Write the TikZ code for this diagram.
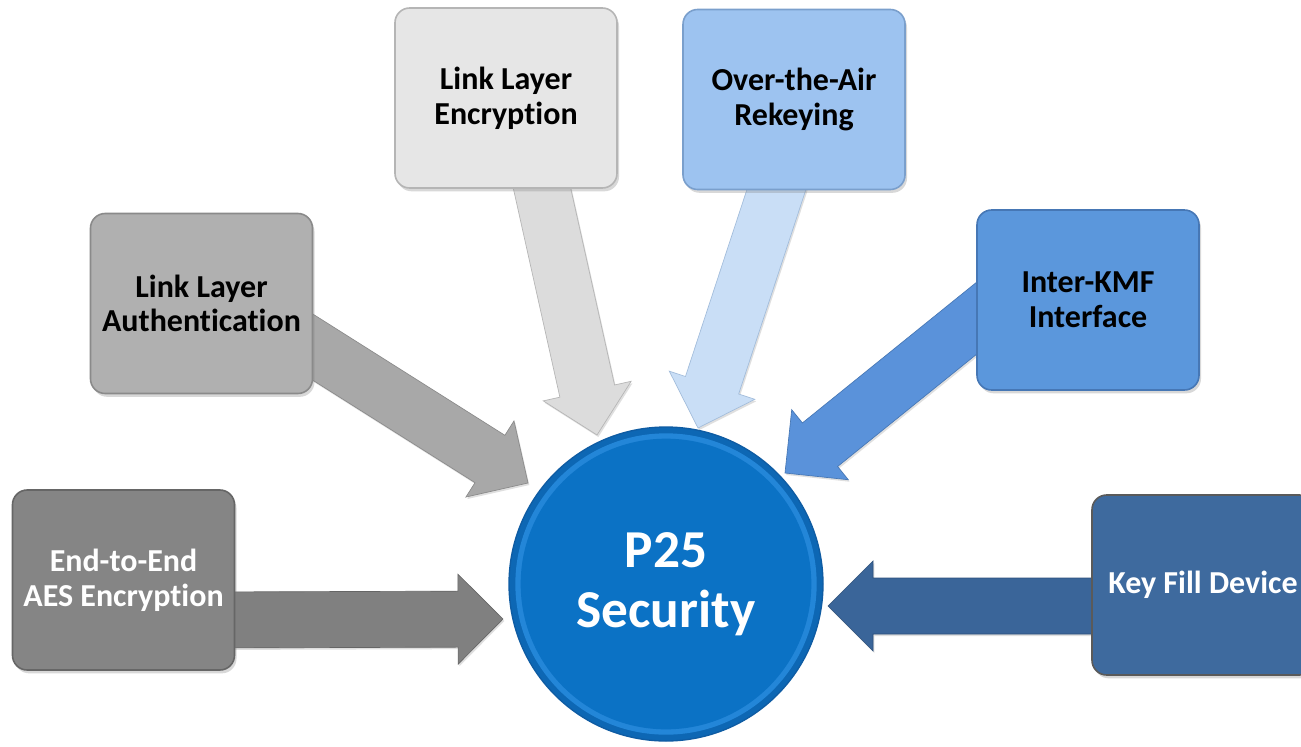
\documentclass[tikz,border=0pt]{standalone}
\usepackage{fontspec}
\setmainfont{Carlito}[Ligatures=NoCommon]
\usetikzlibrary{calc,shadows}
\pgfdeclarelayer{bg}
\pgfdeclarelayer{paper}
\pgfsetlayers{paper,bg,main}
\definecolor{eefill}{HTML}{858585}\definecolor{eedraw}{HTML}{666666}\definecolor{eearr}{HTML}{808080}
\definecolor{aufill}{HTML}{B0B0B0}\definecolor{audraw}{HTML}{8A8A8A}\definecolor{auarr}{HTML}{A8A8A8}
\definecolor{enfill}{HTML}{E6E6E6}\definecolor{endraw}{HTML}{B5B5B5}\definecolor{enarr}{HTML}{DCDCDC}
\definecolor{otfill}{HTML}{9DC3F0}\definecolor{otdraw}{HTML}{7A9FCC}\definecolor{otarr}{HTML}{C9DEF6}
\definecolor{kmfill}{HTML}{5B97DC}\definecolor{kmdraw}{HTML}{4677B5}\definecolor{kmarr}{HTML}{5A92DA}
\definecolor{kffill}{HTML}{3E6A9E}\definecolor{kfdraw}{HTML}{5A5A5A}\definecolor{kfarr}{HTML}{3A6599}
\definecolor{p25fill}{HTML}{0B72C5}\definecolor{p25draw}{HTML}{0F5CA3}\definecolor{p25ring}{HTML}{2E8FE0}
\tikzset{
  box/.style={rounded corners=11pt, minimum width=166.5pt, minimum height=135pt,
    align=center, inner sep=0pt, font=\fontsize{24}{26}\selectfont\bfseries, line width=1.2pt,
    drop shadow={opacity=0.3, shadow xshift=1.5pt, shadow yshift=-2.5pt}},
  blk/.style={line width=0.5pt, line join=miter,
    drop shadow={opacity=0.25, shadow xshift=1pt, shadow yshift=-1.5pt}},
}
\newcommand{\blockarr}[3]{%
  \coordinate (h#1#2) at ($(#2)!33.75pt!(#1)$);
  \draw[blk,#3] ($(#1)!21pt!90:(#2)$) -- ($(h#1#2)!21pt!90:(#2)$)
    -- ($(h#1#2)!33.75pt!90:(#2)$) -- (#2) -- ($(h#1#2)!33.75pt!-90:(#2)$)
    -- ($(h#1#2)!21pt!-90:(#2)$) -- ($(#1)!21pt!-90:(#2)$) -- cycle;
}
\begin{document}
\begin{tikzpicture}[x=0.75pt,y=-0.75pt]
\useasboundingbox (0,0) rectangle (1301,746);
\begin{pgfonlayer}{paper}
\fill[white] (0,0) rectangle (1301,746);
\end{pgfonlayer}
% arrow end points
\coordinate (ees) at (200,620);  \coordinate (eet) at (503,619);
\coordinate (kfs) at (1150,606); \coordinate (kft) at (828,606);
\coordinate (aus) at (254,310);  \coordinate (aut) at (528,483);
\coordinate (ens) at (529,130);  \coordinate (ent) at (597,435);
\coordinate (ots) at (795,133);  \coordinate (ott) at (698,428);
\coordinate (kms) at (1040,267); \coordinate (kmt) at (785,473);
\begin{pgfonlayer}{bg}
\blockarr{ees}{eet}{fill=eearr, draw=eedraw}
\blockarr{kfs}{kft}{fill=kfarr, draw=kfarr!80!black}
\blockarr{aus}{aut}{fill=auarr, draw=audraw}
\blockarr{ens}{ent}{fill=enarr, draw=endraw}
\blockarr{ots}{ott}{fill=otarr, draw=otdraw!70!white}
\blockarr{kms}{kmt}{fill=kmarr, draw=kmdraw}
\end{pgfonlayer}
% boxes
\node[box, fill=eefill, draw=eedraw, text=white] (ee) at (123.5,580) {End-to-End\\AES Encryption};
\node[box, fill=aufill, draw=audraw, text=black] (au) at (201.5,303.5) {Link Layer\\Authentication};
\node[box, fill=enfill, draw=endraw, text=black] (en) at (506,98) {Link Layer\\Encryption};
\node[box, fill=otfill, draw=otdraw, text=black] (ot) at (794,99.5) {Over-the-Air\\Rekeying};
\node[box, fill=kmfill, draw=kmdraw, text=black] (km) at (1088,300) {Inter-KMF\\Interface};
\node[box, fill=kffill, draw=kfdraw, text=white] (kf) at (1203,585) {Key Fill Device};
% centre circle
\node[circle, minimum size=235.5pt, inner sep=0pt, fill=p25draw!50!p25fill, draw=p25draw, line width=1pt,
  text=white, align=center, font=\fontsize{40}{45}\selectfont\bfseries,
  path picture={
    \fill[p25ring!70!p25fill] (path picture bounding box.center) circle (113pt);
    \fill[p25fill] (path picture bounding box.center) circle (109pt);
  }] (P25) at (666,584) {P25\\Security};
\end{tikzpicture}
\end{document}
